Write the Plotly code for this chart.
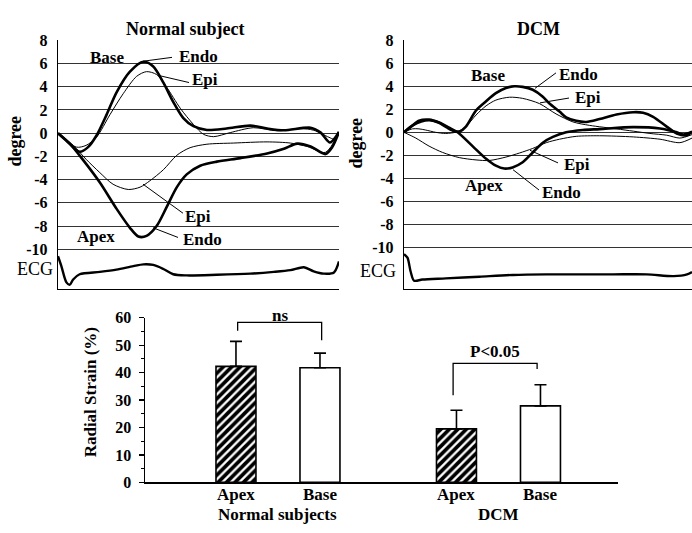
import plotly.graph_objects as go

W, H = 692, 533
FONT = "Liberation Serif"

# ---------------- data: top panels (time = % of cycle, value = rotation in degrees) ----------------
# Normal subject
n_base_endo_t = [0, 3, 7.7, 10.7, 13.7, 17.3, 20.8, 25.6, 30.4, 33.9, 37.5, 41, 44.6, 48.2, 53, 60, 68.5, 74.4, 80.4, 89.9, 93.5, 96.8, 100]
n_base_endo_v = [0, -0.65, -1.6, -1.2, -0.2, 1.6, 3.5, 5.3, 6.15, 5.75, 4.35, 2.7, 1.3, 0.6, 0.28, 0.4, 0.65, 0.4, 0.25, 0.47, 0.05, -0.8, 0.1]

n_base_epi_t = [0, 6.5, 10, 13.7, 18.5, 23.2, 28, 31.5, 35.1, 38.7, 43.5, 48.2, 51.8, 55.4, 61.3, 69.6, 78, 86.3, 91, 96.4, 98.2, 100]
n_base_epi_v = [0, -1.2, -1.05, -0.35, 1.6, 3.4, 4.9, 5.3, 5.05, 3.95, 2.15, 0.75, -0.1, -0.3, 0.05, 0.47, 0.2, 0.4, 0.25, -0.35, -0.5, 0.1]

n_apex_endo_t = [0, 4.2, 8.9, 14.9, 20.8, 25.6, 28.6, 31.5, 35.1, 38.7, 42.3, 45.8, 50.6, 56.5, 64.9, 74.4, 80.4, 85.1, 89.9, 95.2, 97.6, 100]
n_apex_endo_v = [0, -0.9, -2.3, -4.25, -6.5, -8.15, -8.9, -8.85, -8.0, -6.35, -4.65, -3.55, -2.8, -2.45, -2.15, -1.75, -1.35, -0.9, -1.15, -1.8, -1.2, 0.1]

n_apex_epi_t = [0, 5.4, 10, 14.9, 19.6, 25, 29.2, 32.7, 37.5, 42.3, 47, 53, 62.5, 74.4, 82.7, 88.7, 95.2, 100]
n_apex_epi_v = [0, -1.05, -2.25, -3.4, -4.4, -4.85, -4.65, -4.1, -3.15, -1.9, -1.25, -0.95, -0.85, -0.75, -0.85, -1.15, -1.65, 0.1]

n_ecg_t = [0, 1.2, 3, 4.2, 5.4, 7.7, 14.9, 20.8, 26.8, 30.4, 33.9, 37.5, 41, 45.8, 56.5, 68.5, 76.8, 82.7, 87.5, 91, 94.6, 98.2, 100]
n_ecg_v = [-10.6, -11.45, -12.85, -13.05, -12.6, -12.15, -11.95, -11.75, -11.45, -11.3, -11.35, -11.7, -12.15, -12.25, -12.2, -12.1, -11.95, -11.8, -11.55, -11.9, -12.1, -12.0, -11.05]

# DCM
d_base_endo_t = [0, 3, 6, 9, 12, 15, 17.5, 19.5, 21.5, 25, 28.5, 31.9, 35.4, 38.3, 41.2, 44.7, 48.2, 50.5, 54, 56.3, 59.8, 63.3, 67.9, 73.8, 79.6, 83, 86.5, 91.2, 94.7, 98.1, 100]
d_base_endo_v = [0, 0.6, 0.95, 1.05, 0.85, 0.4, 0.1, 0.1, 0.5, 1.9, 2.7, 3.4, 3.85, 4.0, 3.95, 3.7, 3.1, 2.5, 1.8, 1.3, 1.0, 0.9, 1.15, 1.55, 1.75, 1.7, 1.35, 0.5, -0.1, -0.25, 0.05]

d_base_epi_t = [0, 2.9, 5.2, 7.5, 11, 14.5, 18.6, 21.5, 25, 28.5, 31.9, 36.6, 41.2, 47, 52.8, 58.7, 64.5, 73.8, 79.6, 85.4, 91.2, 95.8, 100]
d_base_epi_v = [0, 0.3, 0.3, 0.2, 0.0, -0.1, 0.05, 0.5, 1.5, 2.3, 2.8, 3.05, 2.95, 2.5, 1.6, 0.9, 0.6, 0.3, 0.1, -0.1, -0.25, -0.5, -0.2]

d_apex_endo_t = [0, 2.5, 5.2, 8.7, 12.2, 15.7, 18.6, 23.8, 28.5, 31.9, 34.8, 37.7, 41.2, 44.7, 48.2, 51.7, 56.3, 62.1, 67.9, 79.6, 88.9, 94.7, 97, 100]
d_apex_endo_v = [0, 0.5, 1.0, 1.1, 0.85, 0.4, 0, -1.2, -2.3, -2.9, -3.15, -3.05, -2.6, -1.75, -0.9, -0.4, 0, 0.2, 0.28, 0.45, 0.33, 0.0, -0.2, 0.05]

d_apex_epi_t = [0, 4.1, 8.7, 13.4, 19.2, 25, 29.6, 35.4, 40.1, 44.7, 49.4, 54, 59.8, 67.9, 79.6, 88.9, 95.8, 100]
d_apex_epi_v = [0, -0.5, -1.2, -1.75, -2.2, -2.4, -2.45, -2.15, -1.8, -1.4, -0.9, -0.6, -0.35, -0.3, -0.4, -0.6, -0.9, -0.5]

d_ecg_t = [0, 1.2, 2.3, 3.5, 6.4, 14.5, 26.2, 37.8, 49.4, 61, 72.7, 84.3, 93.6, 98.3, 100]
d_ecg_v = [-10.6, -10.9, -12.1, -12.9, -12.8, -12.7, -12.55, -12.4, -12.35, -12.35, -12.35, -12.35, -12.5, -12.35, -12.15]

deg_ticks = [-10, -8, -6, -4, -2, 0, 2, 4, 6, 8]

# ---------------- data: bar chart ----------------
groups = ["Normal subjects", "DCM"]
regions = ["Apex", "Base"]
strain_mean = [42.3, 41.8, 19.5, 27.9]
strain_sd = [9.1, 5.3, 6.8, 7.7]
strain_ticks = [0, 10, 20, 30, 40, 50, 60]


def px(x):
    return x / W


def py(y):
    return 1 - y / H


fig = go.Figure()

THICK = 2.6
THIN = 1.0


def add_curve(t, v, width, xa, ya):
    fig.add_trace(go.Scatter(x=t, y=v, mode="lines", xaxis=xa, yaxis=ya,
                             line=dict(color="black", width=width, shape="spline", smoothing=0.8),
                             showlegend=False, hoverinfo="skip"))


add_curve(n_apex_epi_t, n_apex_epi_v, THIN, "x", "y")
add_curve(n_base_epi_t, n_base_epi_v, THIN, "x", "y")
add_curve(n_apex_endo_t, n_apex_endo_v, THICK, "x", "y")
add_curve(n_base_endo_t, n_base_endo_v, THICK, "x", "y")
add_curve(n_ecg_t, n_ecg_v, 2.4, "x", "y")

add_curve(d_apex_epi_t, d_apex_epi_v, THIN, "x2", "y2")
add_curve(d_base_epi_t, d_base_epi_v, THIN, "x2", "y2")
add_curve(d_apex_endo_t, d_apex_endo_v, THICK, "x2", "y2")
add_curve(d_base_endo_t, d_base_endo_v, THICK, "x2", "y2")
add_curve(d_ecg_t, d_ecg_v, 2.4, "x2", "y2")

# ---------------- bars ----------------
group_gap = 2.625
positions = [g * group_gap + r for g in range(len(groups)) for r in range(len(regions))]
bar_regions = [regions[r] for g in range(len(groups)) for r in range(len(regions))]
patterns = ["/" if r == "Apex" else "" for r in bar_regions]

fig.add_trace(go.Bar(
    x=positions, y=strain_mean, xaxis="x3", yaxis="y3", width=0.476,
    marker=dict(color="white", line=dict(color="black", width=1.6),
                pattern=dict(shape=patterns, fgcolor="#000000", fgopacity=1, bgcolor="white",
                             size=6, solidity=0.62)),
    error_y=dict(type="data", symmetric=False, array=strain_sd, arrayminus=[0] * len(strain_sd),
                 color="black", thickness=1.6, width=6),
    showlegend=False, hoverinfo="skip"))

tickfont = dict(family=FONT, size=16, color="black", weight="bold")

common_x = dict(range=[0, 100], showgrid=False, zeroline=False, showticklabels=False,
                ticks="", showline=True, linecolor="black", linewidth=1.2)
common_y = dict(tickvals=deg_ticks, ticktext=[f"<b>{v}</b>" for v in deg_ticks],
                showgrid=True, gridcolor="#333333", gridwidth=1,
                zeroline=False, showline=True, linecolor="black", linewidth=1.2,
                ticks="", tickfont=tickfont, ticklabelstandoff=6)

fig.update_layout(
    width=W, height=H, margin=dict(l=0, r=0, t=0, b=0),
    paper_bgcolor="white", plot_bgcolor="white",
    xaxis=dict(domain=[px(58), px(339)], anchor="y", **common_x),
    yaxis=dict(domain=[py(290), py(33)], range=[-13.4, 8.03], anchor="x", **common_y),
    xaxis2=dict(domain=[px(404), 1.0], anchor="y2", **common_x),
    yaxis2=dict(domain=[py(290), py(33)], range=[-13.6, 8.03], anchor="x2", **common_y),
    xaxis3=dict(domain=[px(145), px(618)], anchor="y3", range=[-1.083, 4.548],
                showticklabels=False, ticks="", showgrid=False, zeroline=False,
                showline=True, linecolor="black", linewidth=1.5),
    yaxis3=dict(domain=[py(490), py(320)], anchor="x3", range=[0, 60], tickvals=strain_ticks,
                ticktext=[f"<b>{v}</b>" for v in strain_ticks],
                ticks="outside", ticklen=5, tickwidth=1.2, tickcolor="black",
                minor=dict(dtick=5, ticks="outside", ticklen=3, tickwidth=1, tickcolor="black"),
                showgrid=False, zeroline=False, showline=True, linecolor="black", linewidth=1.5,
                tickfont=dict(family=FONT, size=16, color="black", weight="bold"), ticklabelstandoff=4),
)

anns = []


def label(x, y, text, size=17, bold=True, angle=0):
    anns.append(dict(x=px(x), y=py(y), xref="paper", yref="paper",
                     text=f"<b>{text}</b>" if bold else text, showarrow=False,
                     xanchor="center", yanchor="middle", textangle=angle,
                     font=dict(family=FONT, size=size, color="black", weight="bold" if bold else "normal")))


shapes = []


def leader(x0, y0, x1, y1):
    shapes.append(dict(type="line", xref="paper", yref="paper", x0=px(x0), y0=py(y0), x1=px(x1), y1=py(y1),
                       line=dict(color="black", width=1)))


# Left panel labels
label(185, 22, "Normal subject", 18)
label(15, 138, "degree", 18, angle=-90)
label(35, 270, "ECG", 18, bold=False)
label(107, 51, "Base")
label(198, 50, "Endo")
label(205, 74, "Epi")
label(198, 215, "Epi")
label(202, 239, "Endo")
label(96, 236, "Apex")
leader(143, 55, 172, 51)
leader(160, 70, 189, 77)
leader(143, 182, 183, 212)
leader(153, 227, 178, 237)

# Right panel labels
label(538, 22, "DCM", 18)
label(356, 140, "degree", 18, angle=-90)
label(378, 272, "ECG", 18, bold=False)
label(488, 70, "Base")
label(578, 69, "Endo")
label(588, 92, "Epi")
label(577, 162, "Epi")
label(561, 191, "Endo")
label(484, 183, "Apex")
leader(535, 83, 556, 67)
leader(540, 98, 569, 93)
leader(530, 147, 558, 160)
leader(513, 167, 539, 188)

# Bar chart labels
label(90, 397, "Radial Strain (%)", 17, angle=-90)
for p, r in zip(positions, bar_regions):
    anns.append(dict(x=p, y=py(503), xref="x3", yref="paper", text=f"<b>{r}</b>", showarrow=False,
                     xanchor="center", yanchor="middle", font=dict(family=FONT, size=17, color="black")))
for g, name in enumerate(groups):
    cx = (positions[2 * g] + positions[2 * g + 1]) / 2
    anns.append(dict(x=cx, y=py(523), xref="x3", yref="paper", text=f"<b>{name}</b>", showarrow=False,
                     xanchor="center", yanchor="middle", font=dict(family=FONT, size=17, color="black")))


def bracket(xa, xb, ya, ytop, yb, text, ytext_px):
    shapes.append(dict(type="path", xref="x3", yref="y3",
                       path=f"M {xa} {ya} L {xa} {ytop} L {xb} {ytop} L {xb} {yb}",
                       line=dict(color="black", width=1.3)))
    anns.append(dict(x=(xa + xb) / 2, y=py(ytext_px), xref="x3", yref="paper", text=f"<b>{text}</b>",
                     showarrow=False, xanchor="center", yanchor="middle",
                     font=dict(family=FONT, size=17, color="black")))


bracket(positions[0] + 0.02, positions[1] + 0.02, 55.3, 58.3, 51.8, "ns", 318)
bracket(positions[2] - 0.04, positions[3] - 0.04, 31.8, 43.4, 41.3, "P&lt;0.05", 355)

fig.update_layout(annotations=anns, shapes=shapes)

fig.write_html("out.html", config={"displayModeBar": False, "staticPlot": True},
               post_script="document.body.style.margin='0';document.body.style.overflow='hidden';")
